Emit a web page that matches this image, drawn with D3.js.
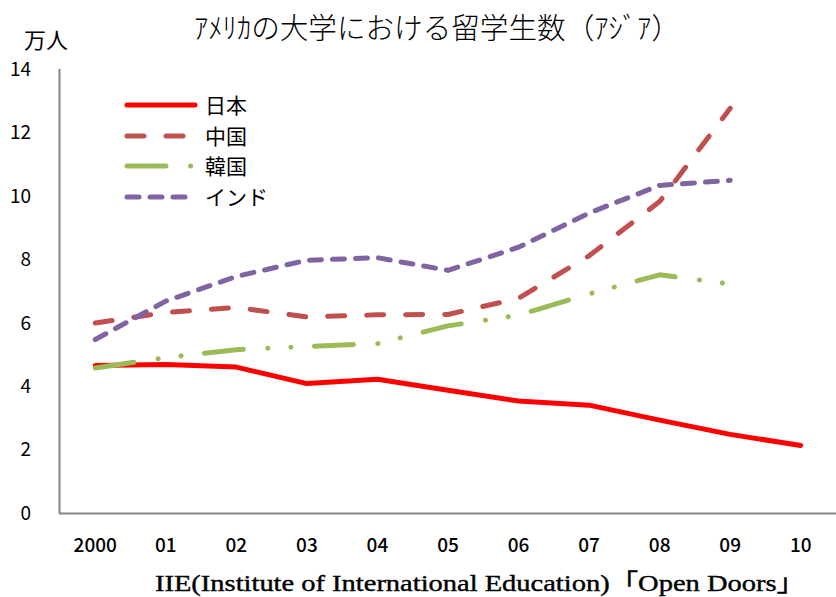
<!DOCTYPE html>
<html><head><meta charset="utf-8">
<script src="https://cdn.jsdelivr.net/npm/d3@7"></script>
<style>body{margin:0;background:#fff}svg{display:block}</style>
</head><body>
<script>
const categories = ["2000","01","02","03","04","05","06","07","08","09","10"];
const japan = [4.65,4.68,4.60,4.08,4.22,3.87,3.53,3.40,2.93,2.48,2.13];
const china = [5.99,6.32,6.48,6.18,6.25,6.26,6.77,8.11,9.82,12.76,null];
const korea = [4.57,4.90,5.15,5.25,5.34,5.90,6.24,6.91,7.51,7.22,null];
const india = [5.47,6.68,7.46,7.97,8.05,7.65,8.38,9.46,10.33,10.49,null];
const yTicks = [0,2,4,6,8,10,12,14];
const seriesNames = ["日本","中国","韓国","インド"];

const W=836,H=597;
const svg=d3.select("body").append("svg").attr("width",W).attr("height",H);
const x=d3.scaleBand().domain(categories).range([60,836]);
const y=d3.scaleLinear().domain([0,14]).range([513,69]);
const jp="'Noto Sans CJK JP','Noto Sans',sans-serif";

const styles=[
 {data:japan,color:"#FF0000",dash:null},
 {data:china,color:"#C0504D",dash:"17,22"},
 {data:korea,color:"#9BBB59",dash:"39,24.5,0.1,23,0.1,23.5"},
 {data:india,color:"#8064A2",dash:"12,11"}
];

// axes lines
svg.append("line").attr("x1",59.5).attr("x2",59.5).attr("y1",y(14)).attr("y2",y(0)+0.5)
  .attr("stroke","#868686").attr("stroke-width",2);
svg.append("line").attr("x1",59).attr("x2",836).attr("y1",y(0)+0.5).attr("y2",y(0)+0.5)
  .attr("stroke","#868686").attr("stroke-width",2);

// y tick labels
svg.append("g").selectAll("text").data(yTicks).join("text")
  .attr("x",31).attr("y",d=>y(d)).attr("dy","0.36em").attr("text-anchor","end")
  .attr("font-family",jp).attr("font-size",19).attr("fill","#000").text(d=>d);

// x tick labels
svg.append("g").selectAll("text").data(categories).join("text")
  .attr("x",d=>x(d)+x.bandwidth()/2).attr("y",545).attr("dy","0.36em").attr("text-anchor","middle")
  .attr("font-family",jp).attr("font-weight",500).attr("font-size",19).attr("fill","#000").text(d=>d);

// lines
const line=d3.line().defined(d=>d.v!=null).x(d=>x(d.c)+x.bandwidth()/2).y(d=>y(d.v))
  .curve(d3.curveLinear);
styles.forEach(s=>{
  const pts=categories.map((c,i)=>({c,v:s.data[i]})).filter(d=>d.v!=null);
  svg.append("path").datum(pts).attr("d",line).attr("fill","none")
    .attr("stroke",s.color).attr("stroke-width",5).attr("stroke-linecap","round").attr("stroke-linejoin","round")
    .attr("stroke-dasharray",s.dash);
});

// legend
const ly=[105,136,166,197];
styles.forEach((s,i)=>{
  svg.append("line").attr("x1",127).attr("x2",195).attr("y1",ly[i]).attr("y2",ly[i])
    .attr("stroke",s.color).attr("stroke-width",5).attr("stroke-linecap","round").attr("stroke-dasharray",s.dash);
  svg.append("text").attr("x",205).attr("y",ly[i]).attr("dy","0.36em")
    .attr("font-family",jp).attr("font-size",21).attr("fill","#000").text(seriesNames[i]);
});

// title
svg.append("text").attr("x",437).attr("y",29).attr("dy","0.36em").attr("text-anchor","middle")
  .attr("font-family",jp).attr("font-weight",300).attr("font-size",29).attr("fill","#000")
  .attr("textLength",486).attr("lengthAdjust","spacingAndGlyphs")
  .text("ｱﾒﾘｶの大学における留学生数（ｱｼﾞｱ）");
svg.append("text").attr("x",46).attr("y",40).attr("dy","0.36em").attr("text-anchor","middle")
  .attr("font-family",jp).attr("font-size",22).attr("fill","#000").text("万人");

// source
svg.append("text").attr("x",480).attr("y",582).attr("dy","0.36em").attr("text-anchor","middle")
  .attr("font-family","'Liberation Serif','Noto Sans CJK JP',serif").attr("font-size",24).attr("fill","#000")
  .attr("stroke","#000").attr("stroke-width",0.4)
  .attr("textLength",650).attr("lengthAdjust","spacingAndGlyphs")
  .text("IIE(Institute of International Education)「Open Doors」");
</script>
</body></html>
